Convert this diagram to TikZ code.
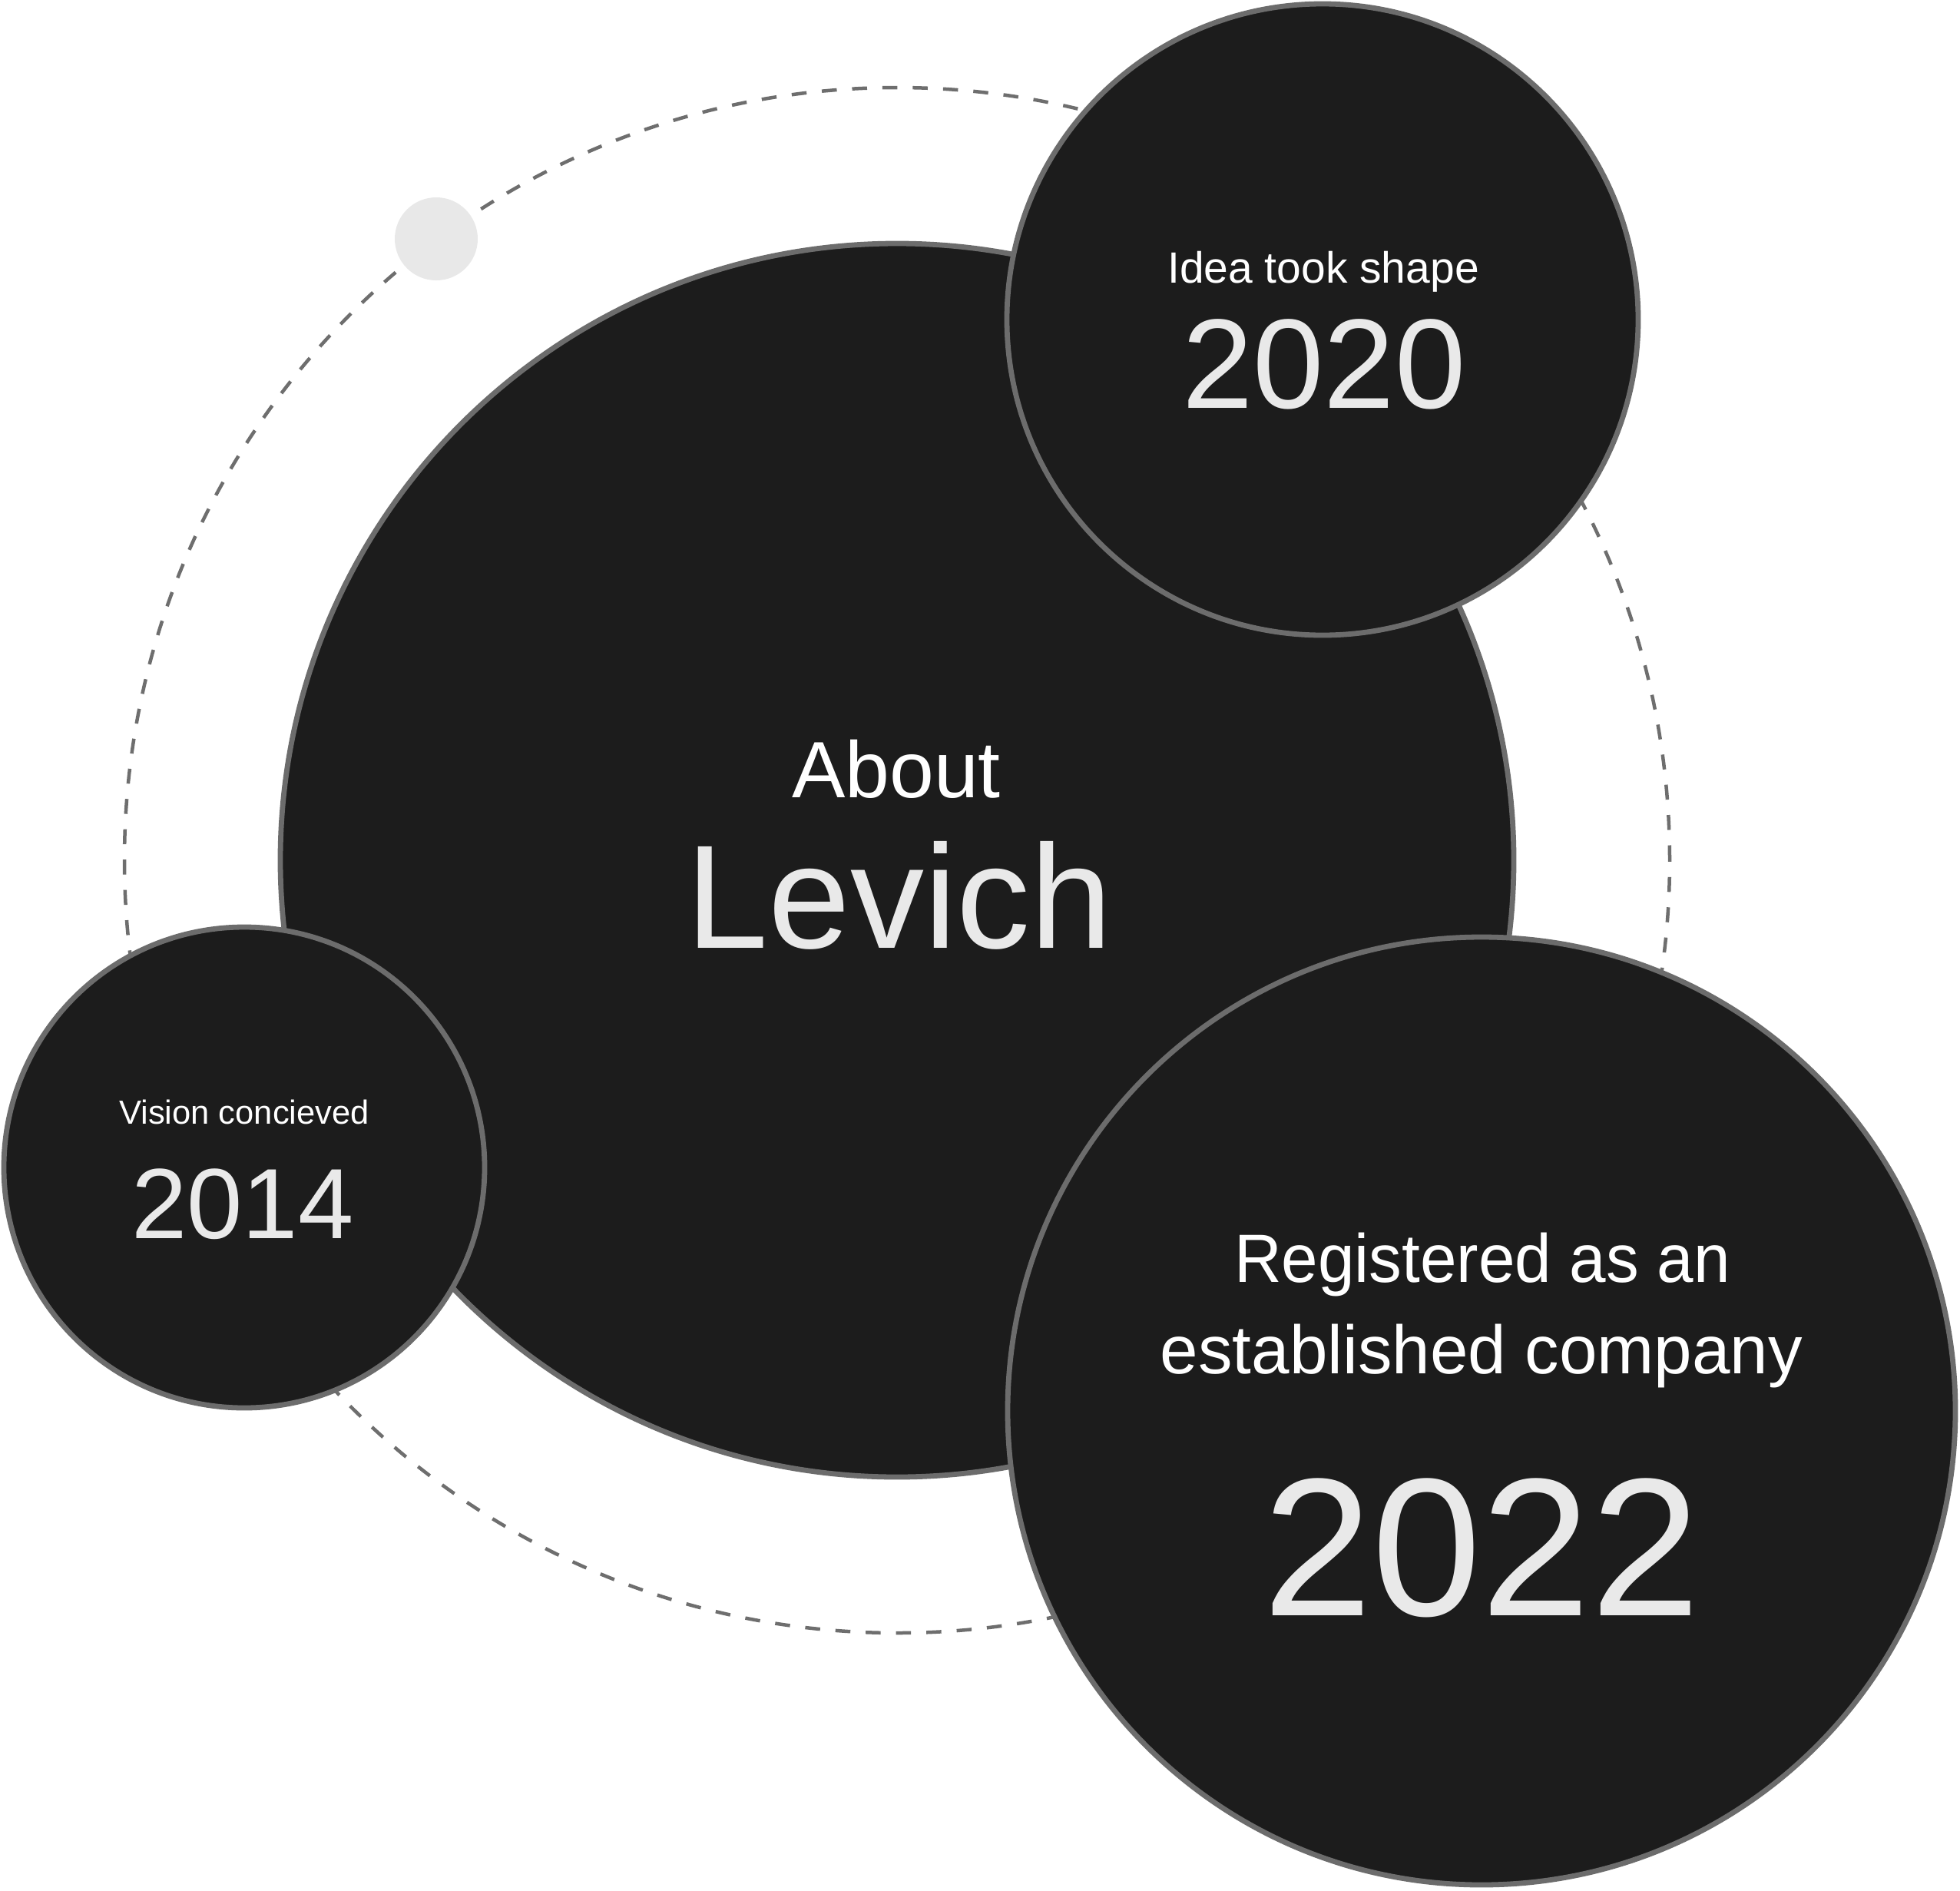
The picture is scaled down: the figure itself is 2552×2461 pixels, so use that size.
\documentclass[tikz,border=0pt]{standalone}
\usepackage{fontspec}
\setmainfont{Liberation Sans}
\newfontfamily\narrowsans[FakeStretch=0.96]{Liberation Sans}
\definecolor{bubblefill}{HTML}{1C1C1C}
\definecolor{ringgray}{HTML}{6C6C6C}
\definecolor{dashgray}{HTML}{6E6E6E}
\definecolor{dotgray}{HTML}{E8E8E8}
\definecolor{yeargray}{HTML}{E9E9E9}
\begin{document}
\begin{tikzpicture}[x=1pt,y=-1pt]
\tikzset{
  bubble/.style={circle, draw=ringgray, fill=bubblefill, line width=6.8pt, inner sep=0pt, outer sep=0pt},
  orbitline/.style={circle, draw=dashgray, line width=4.5pt, dash pattern=on 19.5pt off 20pt, inner sep=0pt, outer sep=0pt},
  dotstyle/.style={circle, fill=dotgray, inner sep=0pt, outer sep=0pt},
  lbl/.style={text=white, inner sep=0pt, anchor=base},
  yr/.style={text=yeargray, inner sep=0pt, anchor=base},
}
\useasboundingbox (0,0) rectangle (2552,2461);
\fill[white] (0,0) rectangle (2552,2461);
% orbit and satellite dot
\node[orbitline, minimum size=2012pt] (orbit) at (1168,1120) {};
\node[dotstyle, minimum size=108pt] (dot) at (568,311) {};
% bubbles
\node[bubble, minimum size=1606pt] (main) at (1168,1120) {};
\node[bubble, minimum size=822pt] (c2020) at (1722,416) {};
\node[bubble, minimum size=626pt] (c2014) at (318,1520) {};
\node[bubble, minimum size=1234pt] (c2022) at (1929,1837) {};
% texts
\node[lbl, font=\fontsize{104}{120}\selectfont] (tabout) at (1167,1038) {About};
\node[yr, font=\fontsize{192}{220}\selectfont] (tlevich) at (1171,1234) {Levich};
\node[lbl, font=\fontsize{57}{66}\selectfont] (tidea) at (1723,368) {Idea took shape};
\node[yr, font=\fontsize{166}{190}\selectfont] (t2020) at (1724,531) {2020};
\node[lbl, font=\fontsize{43.5}{50}\selectfont] (tvision) at (318,1463) {Vision concieved};
\node[yr, font=\fontsize{130}{150}\selectfont] (t2014) at (316,1612) {2014};
\node[lbl, font=\narrowsans\fontsize{89}{100}\selectfont] (treg) at (1930,1669) {Registered as an};
\node[lbl, font=\fontsize{89}{100}\selectfont] (test) at (1929,1788) {established company};
\node[yr, font=\fontsize{256}{290}\selectfont] (t2022) at (1929,2103) {2022};
\end{tikzpicture}
\end{document}
